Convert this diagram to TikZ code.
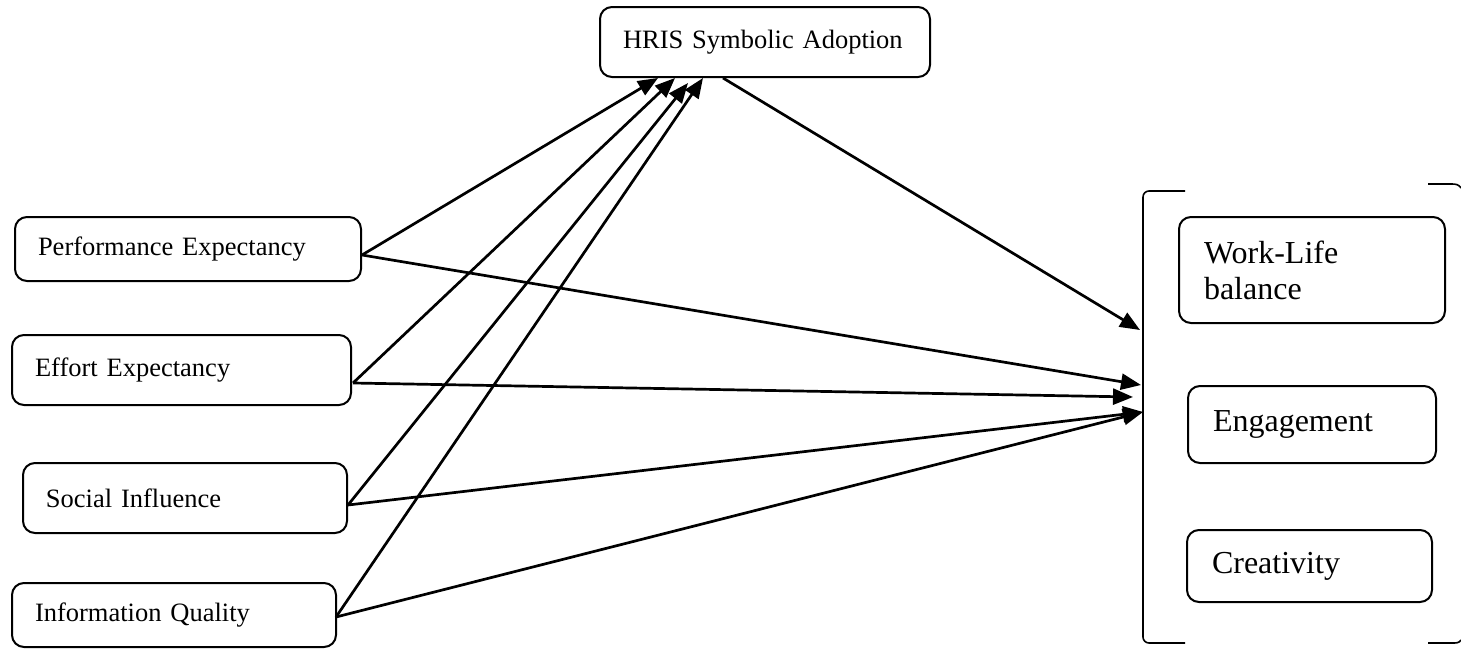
\documentclass[tikz,border=0pt]{standalone}
\usepackage{fontspec}
\setmainfont{Liberation Serif}
\usetikzlibrary{arrows.meta,calc}
\begin{document}
\begin{tikzpicture}[x=0.5pt,y=-0.5pt,
 box/.style={draw,line width=1pt,rounded corners=6pt,align=left,inner ysep=0pt},
 lbox/.style={box,font=\fontsize{13.25}{15.5}\selectfont,inner xsep=11.5pt},
 rbox/.style={box,font=\fontsize{16}{18}\selectfont,inner xsep=12.5pt},
 arr/.style={line width=1.35pt,-{Triangle[length=10pt,width=8pt]}},
 brk/.style={line width=0.8pt}]
\useasboundingbox (0,0) rectangle (1461,648);

% boxes
\node[lbox, minimum height=35pt, text width=142pt] (hris) at (765,42) {HRIS Symbolic Adoption};
\node[lbox, minimum height=32pt, text width=150pt] (pe) at (188,249) {Performance Expectancy};
\node[lbox, minimum height=35pt, text width=146.5pt] (ee) at (181.5,370) {Effort Expectancy};
\node[lbox, minimum height=35pt, text width=139pt] (si) at (185,498) {Social Influence};
\node[lbox, minimum height=32pt, text width=139pt] (iq) at (174,615) {Information Quality};

\node[rbox, minimum height=53pt, text width=108pt] (wl) at (1312,270) {Work-Life\\balance};
\node[rbox, minimum height=38.5pt, text width=99pt] (eng) at (1312,424.5) {Engagement};
\node[rbox, minimum height=36pt, text width=97.5pt] (cre) at (1309.5,566) {Creativity};

% bracket
\draw[brk] (1185,191) -- (1149,191) to[out=180,in=90] (1143,197) -- (1143,637) to[out=-90,in=180] (1149,643) -- (1185,643);
\draw[brk] (1428,184) -- (1452,184) to[out=0,in=120] (1461,188);
\draw[brk] (1428,643) -- (1452,643) to[out=0,in=-120] (1461,640);

% arrow ends on the bracket
\coordinate (bH) at (1140,330);
\coordinate (bP) at (1141,385);
\coordinate (bE) at (1133,397);
\coordinate (bS) at (1143,412);

% arrows into HRIS
\draw[arr] ($(pe.east)+(0,6)$) -- ($(hris.south)+(-107,0)$);
\draw[arr] ($(ee.east)+(1,13)$) -- ($(hris.south)+(-90,0)$);
\draw[arr] ($(si.east)+(0,7)$) -- ($(hris.south)+(-77,5)$);
\draw[arr] ($(iq.east)+(-1,2)$) -- ($(hris.south)+(-62,0)$);

% arrows into outcomes
\draw[arr] ($(hris.south)+(-42,0)$) -- (bH);
\draw[arr] ($(pe.east)+(0,6)$) -- (bP);
\draw[arr] ($(ee.east)+(1,13)$) -- (bE);
\draw[arr] ($(si.east)+(0,7)$) -- (bS);
\draw[arr] ($(iq.east)+(-1,2)$) -- (bS);
\end{tikzpicture}
\end{document}
